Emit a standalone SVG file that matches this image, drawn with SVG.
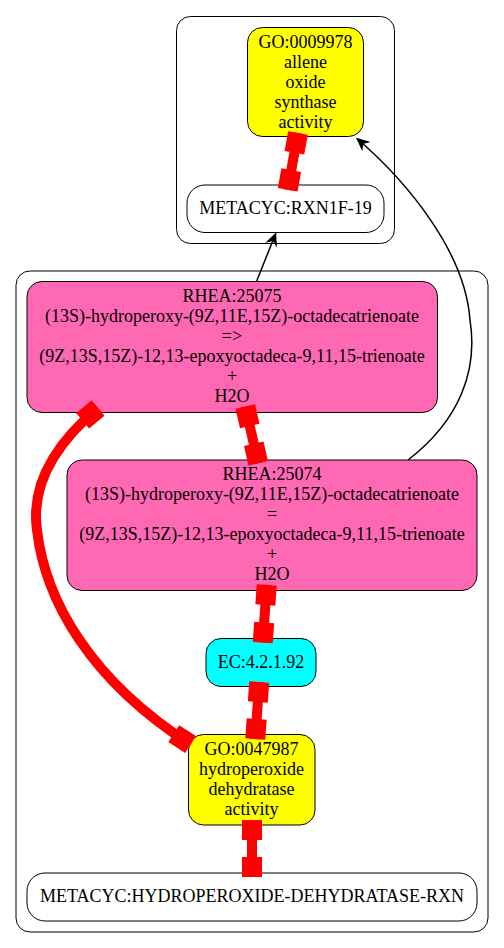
<svg xmlns="http://www.w3.org/2000/svg" width="504" height="948" viewBox="0 0 504 948">
<style>
text{font-family:"Liberation Serif","Times New Roman",serif;font-size:18px;fill:#000;text-anchor:middle}
.cl{fill:none;stroke:#000;stroke-width:1}
.nd{stroke:#000;stroke-width:1}
.red{fill:none;stroke:#ff0000;stroke-width:10}
.blk{fill:none;stroke:#000;stroke-width:1.5}
</style>
<defs>
<marker id="tee" markerUnits="userSpaceOnUse" markerWidth="20" markerHeight="20" refX="20" refY="10" orient="auto-start-reverse" overflow="visible">
<rect x="0" y="0" width="20" height="20" fill="#ff0000"/>
</marker>
<marker id="vee" markerUnits="userSpaceOnUse" markerWidth="11" markerHeight="10" refX="11" refY="5" orient="auto" overflow="visible">
<path d="M0,0 L11,5 L0,10 L3.5,5 z" fill="#000" stroke="#000" stroke-width="1"/>
</marker>
</defs>
<g id="clusters">
<rect class="cl" x="176.5" y="16.5" width="218" height="227" rx="14"/>
<rect class="cl" x="16" y="271" width="472" height="661" rx="14" stroke="#333" stroke-width="1.4"/>
</g>
<g id="GO0009978">
<rect class="nd" x="247.5" y="27.5" width="116" height="109" rx="15" fill="#ffff00"/>
<text x="305.5" y="47.5">GO:0009978</text>
<text x="305.5" y="67.5">allene</text>
<text x="305.5" y="87.5">oxide</text>
<text x="305.5" y="107.5">synthase</text>
<text x="305.5" y="127.5">activity</text>
</g>
<g id="RXN1F19">
<rect class="nd" x="187" y="185" width="197" height="47.5" rx="18" fill="#fff"/>
<text x="285.5" y="214">METACYC:RXN1F-19</text>
</g>
<g id="RHEA25075">
<rect class="nd" x="27" y="281.5" width="410.5" height="131" rx="15" fill="#ff69b4"/>
<text x="232" y="302">RHEA:25075</text>
<text x="232" y="322">(13S)-hydroperoxy-(9Z,11E,15Z)-octadecatrienoate</text>
<text x="232" y="342">=&gt;</text>
<text x="232" y="362">(9Z,13S,15Z)-12,13-epoxyoctadeca-9,11,15-trienoate</text>
<text x="232" y="382">+</text>
<text x="232" y="402">H2O</text>
</g>
<g id="RHEA25074">
<rect class="nd" x="67" y="460" width="410" height="130.5" rx="15" fill="#ff69b4"/>
<text x="272" y="480">RHEA:25074</text>
<text x="272" y="500">(13S)-hydroperoxy-(9Z,11E,15Z)-octadecatrienoate</text>
<text x="272" y="520">=</text>
<text x="272" y="540">(9Z,13S,15Z)-12,13-epoxyoctadeca-9,11,15-trienoate</text>
<text x="272" y="560">+</text>
<text x="272" y="580">H2O</text>
</g>
<g id="EC42192">
<rect class="nd" x="206" y="638.5" width="110" height="48" rx="15" fill="#00ffff"/>
<text x="261" y="668">EC:4.2.1.92</text>
</g>
<g id="GO0047987">
<rect class="nd" x="188.5" y="734.5" width="126.5" height="90.5" rx="15" fill="#ffff00"/>
<text x="251.5" y="755">GO:0047987</text>
<text x="251.5" y="775">hydroperoxide</text>
<text x="251.5" y="795">dehydratase</text>
<text x="251.5" y="815">activity</text>
</g>
<g id="HYDRO">
<rect class="nd" x="27" y="873" width="450" height="48" rx="18" fill="#fff"/>
<text x="252" y="902">METACYC:HYDROPEROXIDE-DEHYDRATASE-RXN</text>
</g>
<g id="edges">
<path class="red" d="M298,133 L287.7,189.8" marker-start="url(#tee)" marker-end="url(#tee)"/>
<path class="red" d="M245.3,406.5 L258.2,463.2" marker-start="url(#tee)" marker-end="url(#tee)"/>
<path class="red" d="M266.7,585 L262.8,642.5" marker-start="url(#tee)" marker-end="url(#tee)"/>
<path class="red" d="M259.2,682 L255.3,739" marker-start="url(#tee)" marker-end="url(#tee)"/>
<path class="red" d="M252,820 L252,877" marker-start="url(#tee)" marker-end="url(#tee)"/>
<path class="red" d="M98,408 C60,440 30,480 37,530 C45,600 90,680 190.6,744.5" stroke-width="11" marker-start="url(#tee)" marker-end="url(#tee)"/>
<path class="blk" d="M256.7,281 L275.7,233.5" marker-end="url(#vee)"/>
<path class="blk" d="M408,460 C460,420 478,370 470,320 C465,250 405,180 357,138.5" marker-end="url(#vee)"/>
</g>
</svg>
